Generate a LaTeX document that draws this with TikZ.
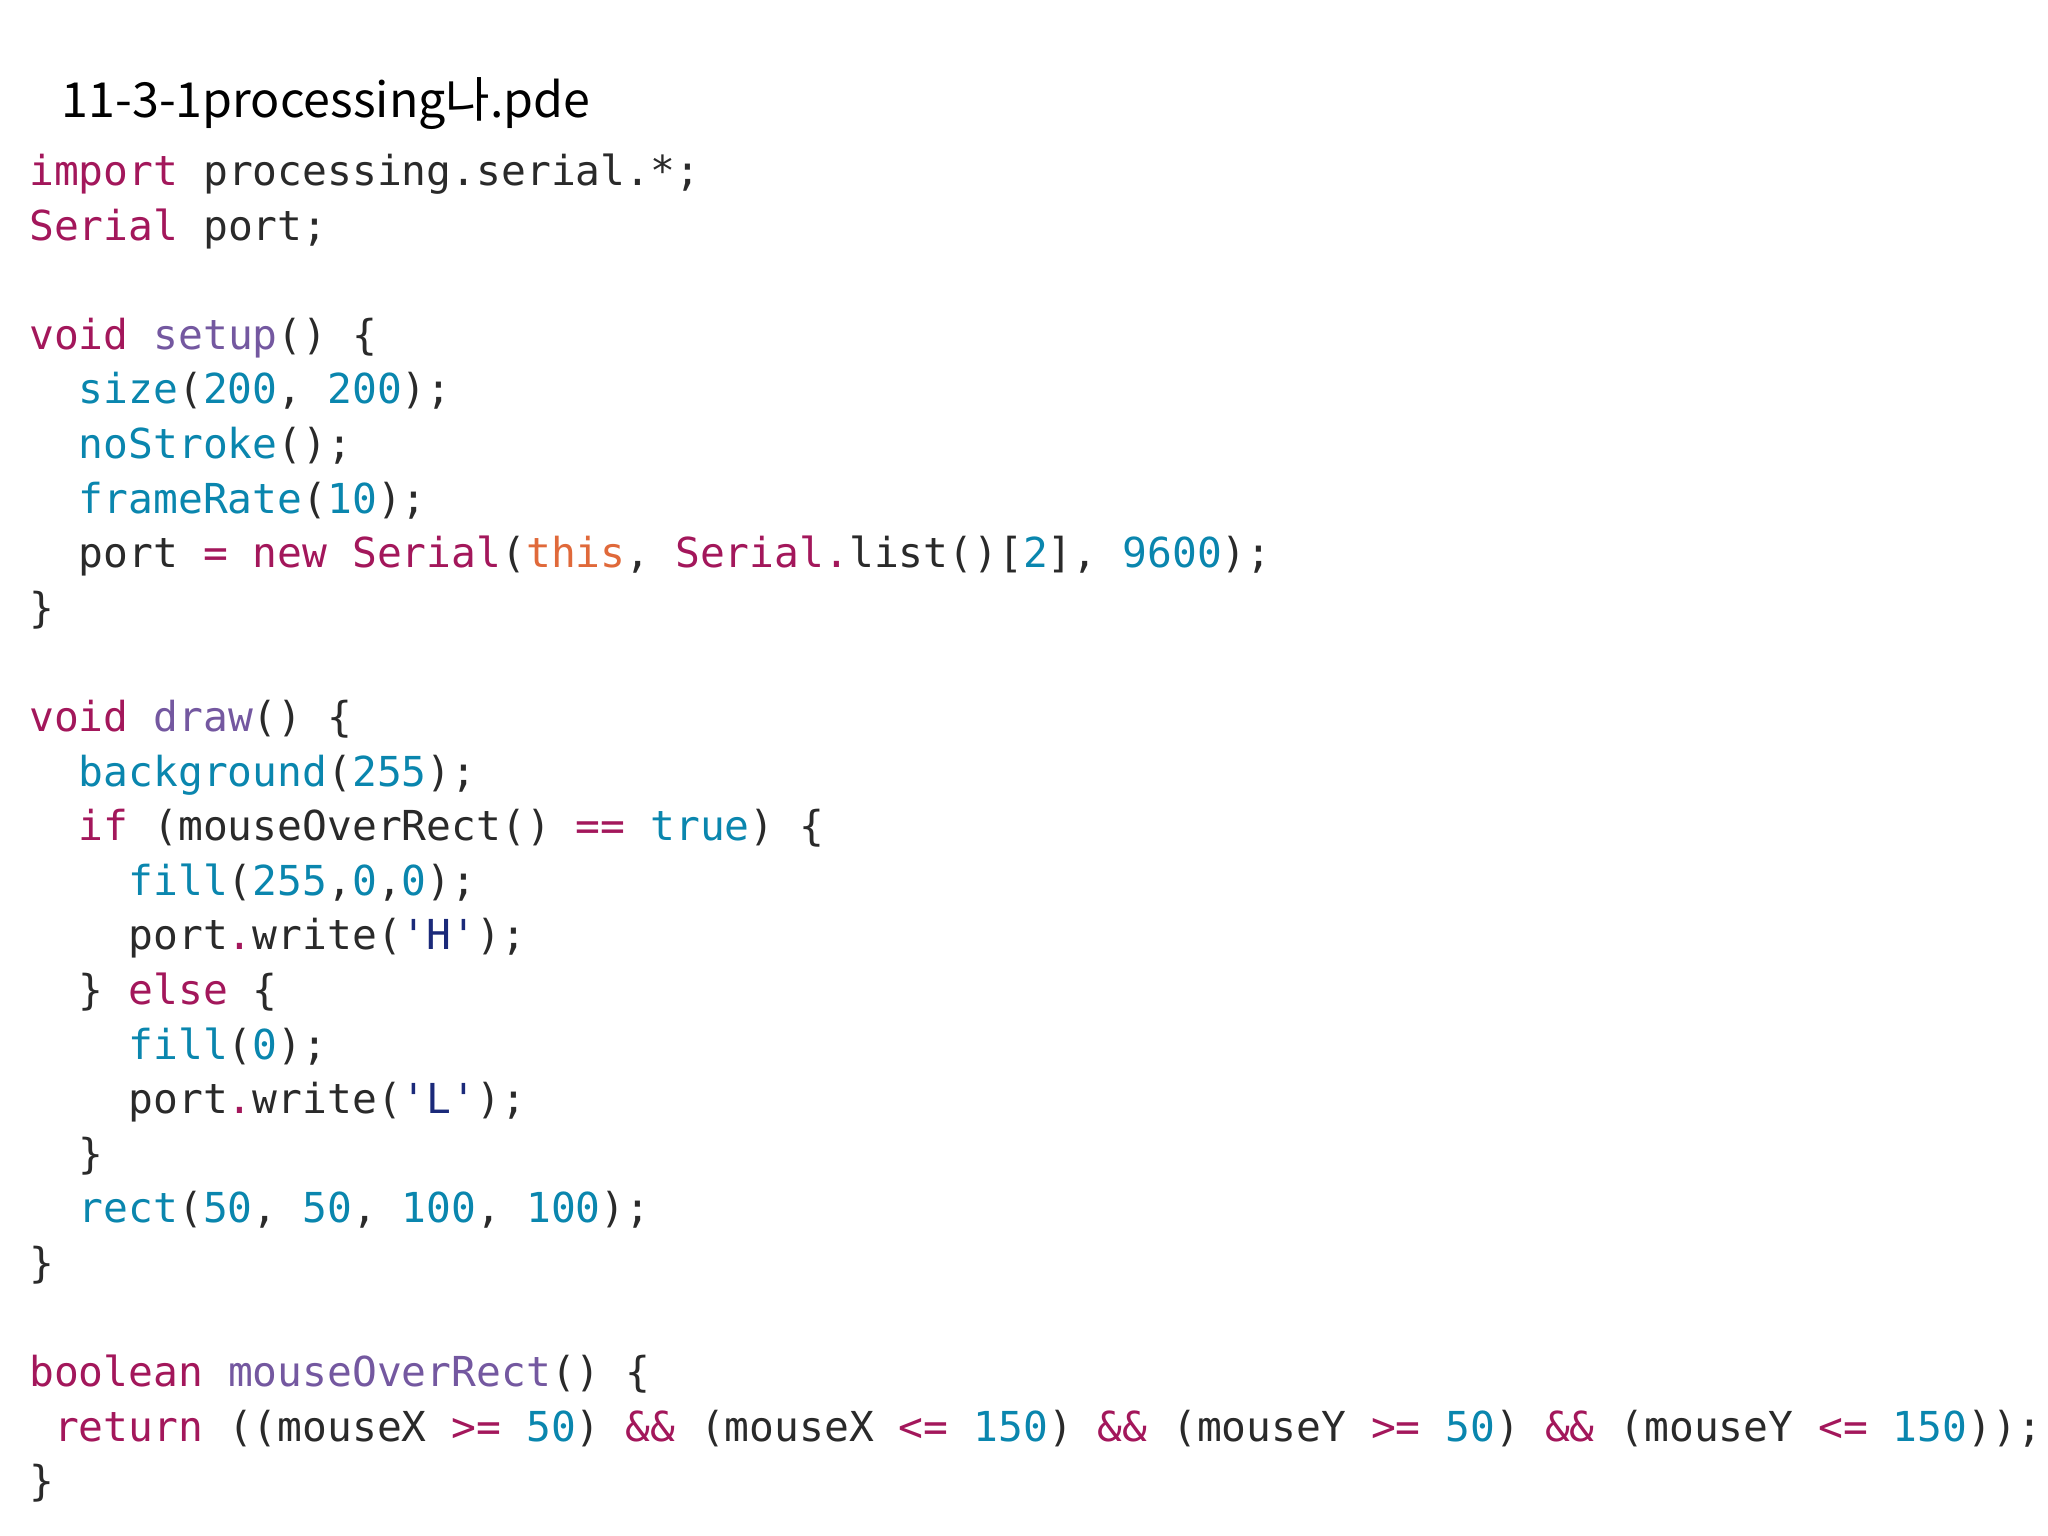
\documentclass[tikz,border=0pt]{standalone}
\usepackage{fontspec}
\setmonofont{DejaVu Sans Mono}
\newfontfamily\krfont{Noto Sans CJK KR}
\definecolor{kw}{HTML}{A3175B}
\definecolor{fn}{HTML}{7458A0}
\definecolor{bi}{HTML}{0A86AE}
\definecolor{th}{HTML}{E0693A}
\definecolor{ch}{HTML}{1B2A7A}
\definecolor{tx}{HTML}{2A2A2A}
\newcommand\K[1]{\textcolor{kw}{#1}}
\newcommand\F[1]{\textcolor{fn}{#1}}
\newcommand\B[1]{\textcolor{bi}{#1}}
\newcommand\T[1]{\textcolor{th}{#1}}
\newcommand\C[1]{\textcolor{ch}{#1}}
\begin{document}
\begin{tikzpicture}[x=0.5pt,y=-0.5pt,
  code/.style={anchor=base west,inner sep=0pt,font=\ttfamily\fontsize{15.8}{18}\selectfont,text=tx}]
\useasboundingbox (0,0) rectangle (1568,1176);
\clip (0,0) rectangle (1568,1176);
\node[anchor=base west,inner sep=0pt,font=\krfont\fontsize{18.5}{22}\selectfont] (title) at (47,90) {11-3-1processing나.pde};
\def\L#1#2#3#4{\node[code] (#1) at ({22+#2*19},{142+#3*41.8}) {#4};}
\L{l0}{0}{0}{\K{import} processing.serial.*;}
\L{l1}{0}{1}{\K{Serial} port;}
\L{l3}{0}{3}{\K{void} \F{setup}() \{}
\L{l4}{2}{4}{\B{size}(\B{200}, \B{200});}
\L{l5}{2}{5}{\B{noStroke}();}
\L{l6}{2}{6}{\B{frameRate}(\B{10});}
\L{l7}{2}{7}{port \K{=} \K{new} \K{Serial}(\T{this}, \K{Serial.}list()[\B{2}], \B{9600});}
\L{l8}{0}{8}{\}}
\L{l10}{0}{10}{\K{void} \F{draw}() \{}
\L{l11}{2}{11}{\B{background}(\B{255});}
\L{l12}{2}{12}{\K{if} (mouseOverRect() \K{==} \B{true}) \{}
\L{l13}{4}{13}{\B{fill}(\B{255},\B{0},\B{0});}
\L{l14}{4}{14}{port\K{.}write(\C{'H'});}
\L{l15}{2}{15}{\} \K{else} \{}
\L{l16}{4}{16}{\B{fill}(\B{0});}
\L{l17}{4}{17}{port\K{.}write(\C{'L'});}
\L{l18}{2}{18}{\}}
\L{l19}{2}{19}{\B{rect}(\B{50}, \B{50}, \B{100}, \B{100});}
\L{l20}{0}{20}{\}}
\L{l22}{0}{22}{\K{boolean} \F{mouseOverRect}() \{}
\L{l23}{1}{23}{\K{return} ((mouseX \K{>=} \B{50}) \K{\&\&} (mouseX \K{<=} \B{150}) \K{\&\&} (mouseY \K{>=} \B{50}) \K{\&\&} (mouseY \K{<=} \B{150}));}
\L{l24}{0}{24}{\}}
\end{tikzpicture}
\end{document}
